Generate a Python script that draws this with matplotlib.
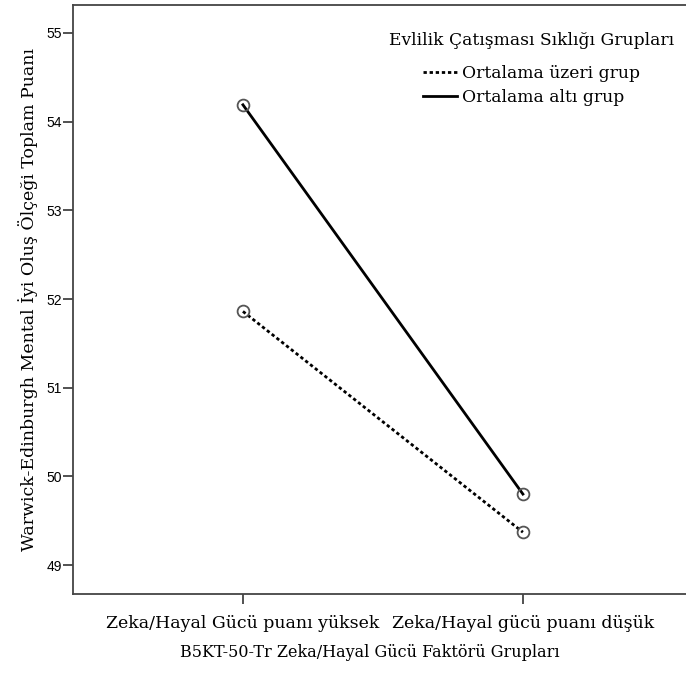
import matplotlib
matplotlib.use("Agg")
import matplotlib.pyplot as plt

categories = ['Zeka/Hayal Gücü puanı yüksek', 'Zeka/Hayal gücü puanı düşük']
above_avg = [51.86, 49.37]   # Ortalama üzeri grup
below_avg = [54.19, 49.80]   # Ortalama altı grup
yticks = [49, 50, 51, 52, 53, 54, 55]

SERIF = 'DejaVu Serif'
SANS = 'Liberation Sans'

fig = plt.figure(figsize=(6.86, 6.74), dpi=100)
# box from x=73px to past the right edge, y=5px..594px
ax = fig.add_axes([73 / 686, (674 - 594) / 674, (692 - 73) / 686, (594 - 5) / 674])

x = [0, 1]
ax.plot(x, above_avg, color='black', lw=2, ls=(0, (1.2, 1.0)),
        marker='o', ms=8.5, mfc='none', mec='#555555', mew=1.3, label='Ortalama üzeri grup')
ax.plot(x, below_avg, color='black', lw=2, ls='-',
        marker='o', ms=8.5, mfc='none', mec='#555555', mew=1.3, label='Ortalama altı grup')

ax.set_xlim(-0.607, 1.604)
ax.set_ylim(49 - 29 / 88.7, 55 + 28 / 88.7)
ax.set_xticks(x)
ax.set_xticklabels(categories, fontfamily=SERIF, fontsize=12.5)
ax.set_yticks(yticks)
ax.set_yticklabels([str(v) for v in yticks], fontfamily=SANS, fontsize=10)

for s in ax.spines.values():
    s.set_color('#444444')
    s.set_linewidth(1.3)
ax.tick_params(axis='both', direction='out', length=7, width=1.1, color='#222222')
ax.tick_params(axis='x', pad=8)
ax.tick_params(axis='y', pad=1)

ax.set_xlabel('B5KT-50-Tr Zeka/Hayal Gücü Faktörü Grupları', fontfamily=SERIF, fontsize=11.5, labelpad=9)
ax.xaxis.set_label_coords(0.48, -0.085)
ax.set_ylabel('Warwick-Edinburgh Mental İyi Oluş Ölçeği Toplam Puanı', fontfamily=SERIF, fontsize=12.5, labelpad=6)

leg = ax.legend(loc='upper right', bbox_to_anchor=(0.99, 0.975), frameon=False,
                title='Evlilik Çatışması Sıklığı Grupları',
                prop={'family': SERIF, 'size': 12.3}, handlelength=2.0, handletextpad=0.3,
                labelspacing=0.4, borderpad=0.2)
leg.get_title().set_fontfamily(SERIF)
leg.get_title().set_fontsize(12.3)
leg._legend_box.sep = 12
for h in leg.legend_handles:
    h.set_marker('')

fig.savefig('out.png', dpi=100)
